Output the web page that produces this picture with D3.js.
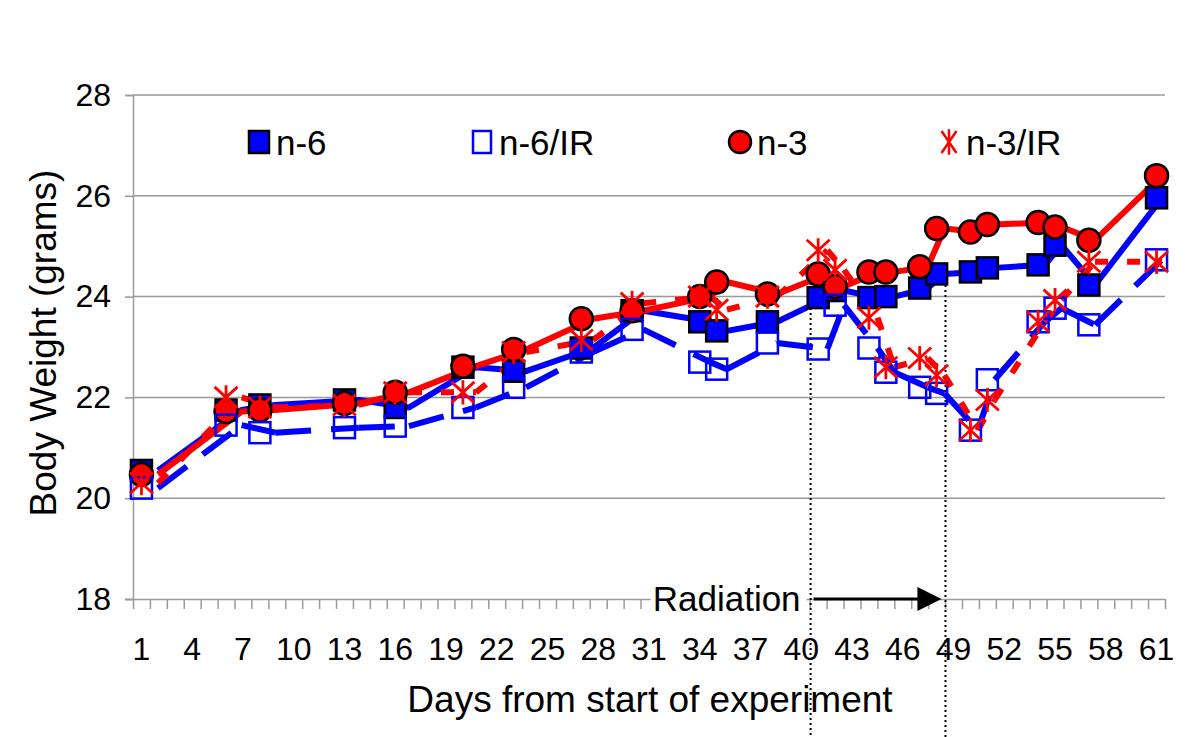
<!DOCTYPE html>
<html><head><meta charset="utf-8">
<script src="https://cdn.jsdelivr.net/npm/d3@7"></script>
<style>body{margin:0;background:#fff} svg{display:block} text{font-family:"Liberation Sans",Arial,sans-serif;fill:#000}</style>
</head><body><svg id="c" width="1200" height="737"></svg>
<script>
// ---- data ----
const days = [1,6,8,13,16,20,23,27,30,34,35,38,41,42,44,45,47,48,50,51,54,55,57,61];
const n6   = [20.55,21.75,21.85,21.95,21.8,22.6,22.52,22.98,23.72,23.5,23.32,23.5,23.98,24.12,23.98,24.0,24.17,24.45,24.49,24.57,24.63,25.02,24.23,25.96];
const n6IR = [20.2,21.45,21.3,21.4,21.43,21.8,22.2,22.9,23.35,22.7,22.56,23.08,22.96,23.83,22.98,22.5,22.2,22.08,21.35,22.35,23.5,23.77,23.44,24.73];
const n3   = [20.47,21.72,21.75,21.88,22.1,22.62,22.95,23.56,23.72,24.0,24.29,24.05,24.45,24.2,24.49,24.49,24.59,25.35,25.28,25.43,25.47,25.38,25.12,26.4];
const n3IR = [20.3,22.0,21.8,21.85,22.1,22.1,22.9,23.14,23.87,24.0,23.74,24.0,24.92,24.53,23.58,22.6,22.78,22.44,21.35,21.95,23.5,23.93,24.69,24.69];
const seriesNames = ["n-6","n-6/IR","n-3","n-3/IR"];
const yTicks = [18,20,22,24,26,28];
const xTickLabels = [1,4,7,10,13,16,19,22,25,28,31,34,37,40,43,46,49,52,55,58,61];
const radiationDays = [40,48];
const firstDay = 1, lastDay = 61;

// ---- layout ----
const svg = d3.select("#c");
const L = 133, R = 1165, T = 95, B = 599;
const allDays = d3.range(firstDay, lastDay + 1);
const xb = d3.scaleBand().domain(allDays).range([L, R]).paddingInner(0).paddingOuter(0);
const xm = d => xb(d) + xb.bandwidth() / 2;           // marker positions (category centres)
const xEdge = d3.scaleLinear().domain([firstDay - 0.5, lastDay + 0.5]).range([L, R]);
const xl = d3.scaleLinear().domain([firstDay, lastDay]).range([158, 1162]); // line series positions
const y = d3.scaleLinear().domain([18, 28]).range([B, T]);
const grey = "#9a9a9a";

// gridlines
svg.append("g").selectAll("line").data(yTicks.filter(v => v > 18)).join("line")
  .attr("x1", L).attr("x2", R).attr("y1", d => y(d)).attr("y2", d => y(d))
  .attr("stroke", grey).attr("stroke-width", 1.5);

// y axis
const ya = svg.append("g").attr("transform", `translate(${L},0)`)
  .call(d3.axisLeft(y).tickValues(yTicks).tickSize(8).tickPadding(14).tickFormat(d3.format("d")));
ya.select(".domain").attr("stroke", grey).attr("stroke-width", 1.5);
ya.selectAll(".tick line").attr("stroke", grey).attr("stroke-width", 1.5);
ya.selectAll(".tick text").attr("font-size", 32).attr("font-family", "Liberation Sans, Arial, sans-serif").attr("fill", "#000");

// x axis tick marks at category boundaries
const xt = svg.append("g").attr("transform", `translate(0,${B})`)
  .call(d3.axisBottom(xEdge).tickValues(d3.range(firstDay - 0.5, lastDay + 1, 1)).tickSize(10).tickSizeOuter(0).tickFormat(""));
xt.select(".domain").attr("stroke", grey).attr("stroke-width", 1.5).attr("d", `M${L-8},0.5H${R}`);
xt.selectAll(".tick line").attr("stroke", grey).attr("stroke-width", 1.5);

// x labels
const xa = svg.append("g").attr("transform", `translate(0,${B})`)
  .call(d3.axisBottom(xb).tickValues(xTickLabels).tickSize(0).tickPadding(38));
xa.select(".domain").remove();
xa.selectAll(".tick text").attr("font-size", 32).attr("font-family", "Liberation Sans, Arial, sans-serif").attr("fill", "#000");

// titles
svg.append("text").attr("x", 650).attr("y", 712).attr("text-anchor", "middle")
  .attr("font-size", 37).text("Days from start of experiment");
svg.append("text").attr("transform", "translate(43,343) rotate(-90)").attr("text-anchor", "middle")
  .attr("dominant-baseline", "central").attr("font-size", 37).text("Body Weight (grams)");

// radiation annotation
const rx0 = xl(radiationDays[0]), rx1 = xl(radiationDays[1]);
svg.append("rect").attr("x", rx0 - 160).attr("y", B - 16).attr("width", 156).attr("height", 30).attr("fill", "#fff");
svg.append("text").attr("x", rx0 - 10).attr("y", B + 12).attr("text-anchor", "end").attr("font-size", 35).text("Radiation");
svg.append("line").attr("x1", rx0 + 3).attr("x2", rx1 - 22).attr("y1", B).attr("y2", B).attr("stroke", "#000").attr("stroke-width", 3);
svg.append("path").attr("d", `M${rx1-3},${B} L${rx1-27},${B-12} L${rx1-27},${B+12} Z`).attr("fill", "#000");
svg.append("g").selectAll("line").data([[rx0, 273], [rx1 + 1, 280]]).join("line")
  .attr("x1", d => d[0]).attr("x2", d => d[0]).attr("y1", d => d[1]).attr("y2", 737)
  .attr("stroke", "#000").attr("stroke-width", 2).attr("stroke-dasharray", "2,3");

// ---- lines ----
const blue = "#0000ff", red = "#ff0000";
const pts = vals => days.map((d, i) => [xl(d), y(vals[i])]);
svg.append("clipPath").attr("id", "pc").append("rect").attr("x", L).attr("y", 0).attr("width", R - L).attr("height", 737);
const lg = svg.append("g").attr("clip-path", "url(#pc)");
function solid(vals, col) {
  lg.append("path").attr("d", d3.line()(pts(vals))).attr("fill", "none").attr("stroke", col)
    .attr("stroke-width", 6).attr("stroke-linejoin", "round");
}
function dashed(vals, col, dash) {
  const segs = d3.pairs(pts(vals));
  lg.append("g").selectAll("line").data(segs).join("line")
    .attr("x1", d => d[0][0]).attr("y1", d => d[0][1]).attr("x2", d => d[1][0]).attr("y2", d => d[1][1])
    .attr("stroke", col).attr("stroke-width", 6).attr("stroke-dasharray", dash).attr("stroke-linecap", "butt");
}
solid(n6, blue);
dashed(n6IR, blue, "36,20");
solid(n3, red);
dashed(n3IR, red, "13,19");

// ---- markers ----
const mk = svg.append("g");
function squares(vals, fill, stroke) {
  mk.append("g").selectAll("rect").data(days).join("rect")
    .attr("x", (d) => xm(d) - 10.5).attr("y", (d, i) => y(vals[i]) - 10.5).attr("width", 21).attr("height", 21)
    .attr("fill", fill).attr("stroke", stroke).attr("stroke-width", 2.5);
}
function circles(vals) {
  mk.append("g").selectAll("circle").data(days).join("circle")
    .attr("cx", d => xm(d)).attr("cy", (d, i) => y(vals[i])).attr("r", 11.5)
    .attr("fill", red).attr("stroke", "#000").attr("stroke-width", 2.5);
}
const starPath = (cx, cy, w, h) => `M${cx-w},${cy-h}L${cx+w},${cy+h}M${cx-w},${cy+h}L${cx+w},${cy-h}M${cx},${cy-h*1.15}L${cx},${cy+h*1.15}`;
function stars(vals) {
  mk.append("g").selectAll("path").data(days).join("path")
    .attr("d", (d, i) => starPath(xm(d), y(vals[i]), 11.5, 10.5))
    .attr("fill", "none").attr("stroke", red).attr("stroke-width", 2.8);
}
squares(n6, blue, "#000");
circles(n3);
squares(n6IR, "none", blue);
stars(n3IR);

// ---- legend ----
const leg = svg.append("g");
const legX = [259, 482, 740, 949], legY = 142;
leg.append("rect").attr("x", legX[0] - 10).attr("y", legY - 11).attr("width", 20).attr("height", 22).attr("fill", blue).attr("stroke", "#000").attr("stroke-width", 2.5);
leg.append("rect").attr("x", legX[1] - 9).attr("y", legY - 11).attr("width", 18).attr("height", 22).attr("fill", "none").attr("stroke", blue).attr("stroke-width", 2.5);
leg.append("circle").attr("cx", legX[2]).attr("cy", legY).attr("r", 11).attr("fill", red).attr("stroke", "#000").attr("stroke-width", 2.5);
leg.append("path").attr("d", starPath(legX[3], legY, 7.5, 11)).attr("fill", "none").attr("stroke", red).attr("stroke-width", 2.5);
leg.selectAll("text").data(seriesNames).join("text")
  .attr("x", (d, i) => legX[i] + 17).attr("y", legY).attr("dominant-baseline", "central")
  .attr("font-size", 35).text(d => d);
</script></body></html>
